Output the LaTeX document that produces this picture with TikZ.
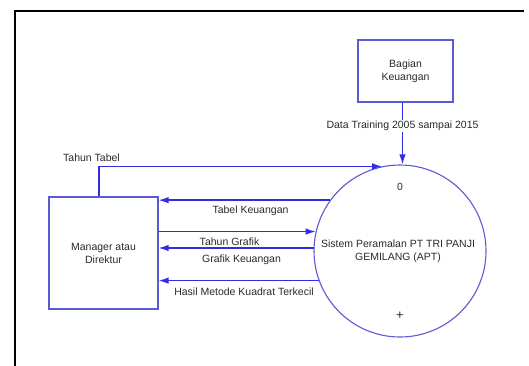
\documentclass[tikz,border=0pt]{standalone}
\usepackage{fontspec}
\setmainfont{Liberation Sans}
\usetikzlibrary{arrows.meta}
\definecolor{flowc}{HTML}{2E2EE6}
\definecolor{shapec}{HTML}{5A5AD2}
\definecolor{txtc}{HTML}{2A2A2A}
\tikzset{
  lbl/.style={font=\fontsize{10.5}{13}\selectfont, text=txtc, inner sep=0pt, align=center},
  entity/.style={draw=shapec, line width=1.1pt, rectangle, inner sep=0pt, lbl},
  procc/.style={draw=shapec, line width=1.1pt, circle, inner sep=0pt, minimum size=172pt},
  flow/.style={draw=flowc, line width=1.3pt, -{Latex[length=10pt,width=6.5pt]}},
  frame/.style={draw=black, line width=2pt}
}
\begin{document}
\begin{tikzpicture}[x=1pt,y=-1pt]
\useasboundingbox (0,0) rectangle (529,365);
\draw[frame] (15,366) -- (15,10.5) -- (524,10.5);

\node[entity, minimum width=95pt, minimum height=62pt] (bk) at (405.5,71) {Bagian\\Keuangan};
\node[entity, minimum width=109pt, minimum height=112pt] (mgr) at (103.5,253) {Manager atau\\Direktur};
\node[procc] (sys) at (400,251) {};
\node[lbl] (systxt) at (398,251.5) {Sistem Peramalan PT TRI PANJI\\GEMILANG (APT)};
\node[lbl] (sysid) at (400,187) {0};
\node[lbl, font=\fontsize{13}{13}\selectfont] (sysplus) at (400,316) {+};

\coordinate (dt) at (402.5,0);
\coordinate (ttx) at (99,0);

\draw[flow] (bk.south -| dt) -- (sys.north -| dt);
\node[lbl, fill=white, inner sep=1pt] (ldt) at (402.5,126) {Data Training 2005 sampai 2015};

\draw[flow] (mgr.north -| ttx) |- (sys.102.4);
\node[lbl] (ltt) at (91.5,158) {Tahun Tabel};

\draw[flow] (sys.144.5) -- (sys.144.5 -| mgr.east);
\node[lbl] (ltk) at (250.5,211) {Tabel Keuangan};

\draw[flow] (sys.167.2 -| mgr.east) -- (sys.167.2);
\node[lbl] (ltg) at (229.5,242) {Tahun Grafik};

\draw[flow] (sys.178.7) -- (sys.178.7 -| mgr.east);
\node[lbl] (lgk) at (241.5,260) {Grafik Keuangan};

\draw[flow] (sys.200.4) -- (sys.200.4 -| mgr.east);
\node[lbl] (lhm) at (244,292) {Hasil Metode Kuadrat Terkecil};
\end{tikzpicture}
\end{document}
